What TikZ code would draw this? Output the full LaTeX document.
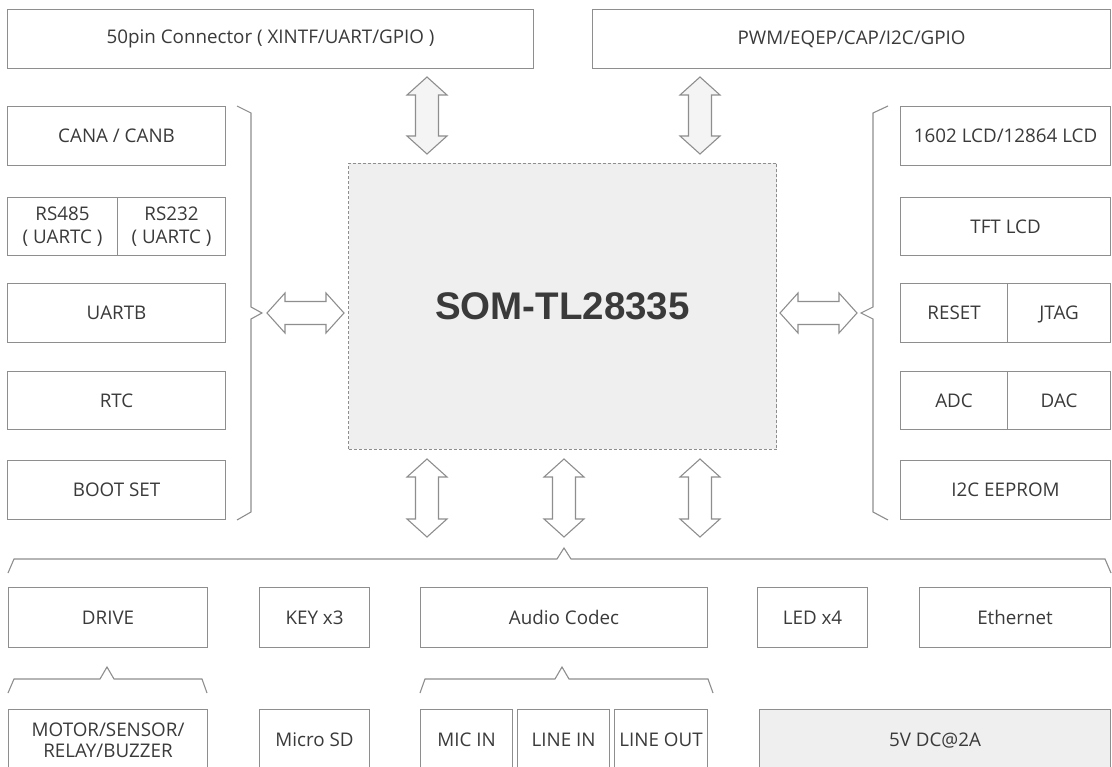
\documentclass[tikz,border=0pt]{standalone}
\usepackage{fontspec}
\setmainfont{Open Sans}
\newfontfamily\titlefont{Liberation Sans}
\definecolor{linegray}{HTML}{8E8E8E}
\definecolor{txtgray}{HTML}{3A3A3A}
\definecolor{fillgray}{HTML}{EFEFEF}
\definecolor{arrfill}{HTML}{F4F4F4}
\tikzset{
  box/.style={draw=linegray, line width=1.1pt, inner sep=0pt, anchor=north west,
    text=txtgray, font=\fontsize{18.8}{23}\selectfont, align=center},
  dblarr/.style={draw=linegray, line width=1.1pt, line join=miter, fill=white},
  brack/.style={draw=linegray, line width=1.1pt, line join=miter},
}
% box: name, x1, y1, x2, y2, options, text
\newcommand\bx[7]{\node[box, minimum width={#4pt-#2pt}, minimum height={#5pt-#3pt}, #6] (#1) at (#2,#3) {#7};}
% vertical double arrow: x, ytop, ybottom, options
\newcommand\vdarr[4]{\draw[dblarr,#4] (#1,#2) -- ++(20,18) -- ++(-8.5,0) -- (#1+11.5,#3-18) -- ++(8.5,0) -- (#1,#3) -- ++(-20,-18) -- ++(8.5,0) -- (#1-11.5,#2+18) -- ++(-8.5,0) -- cycle;}
% horizontal double arrow: y, xleft, xright
\newcommand\hdarr[3]{\draw[dblarr] (#2,#1) -- ++(18,-20) -- ++(0,8.5) -- (#3-18,#1-11.5) -- ++(0,-8.5) -- (#3,#1) -- ++(-18,20) -- ++(0,-8.5) -- (#2+18,#1+11.5) -- ++(0,8.5) -- cycle;}
\begin{document}
\begin{tikzpicture}[x=1pt,y=-1pt]
\useasboundingbox (0,0) rectangle (1112,767);
\clip (0,0) rectangle (1112,767);
\fill[white] (0,0) rectangle (1112,767);

% top row
\bx{top1}{7}{9}{533}{68}{}{50pin Connector ( XINTF/UART/GPIO )}
\bx{top2}{592}{9}{1110}{68}{}{PWM/EQEP/CAP/I2C/GPIO}

% main module
\node[box, draw=linegray, line width=1pt, dash pattern=on 3pt off 2pt, fill=fillgray,
  minimum width=428pt, minimum height=286pt, font=\titlefont\bfseries\fontsize{38.5}{42}\selectfont]
  (main) at (348,163) {SOM-TL28335};

% left column
\bx{can}{7}{106}{225}{165}{}{CANA / CANB}
\bx{rs485}{7}{197}{117}{255}{}{RS485\\( UARTC )}
\bx{rs232}{117}{197}{225}{255}{}{RS232\\( UARTC )}
\bx{uartb}{7}{283}{225}{342}{}{UARTB}
\bx{rtc}{7}{371}{225}{429}{}{RTC}
\bx{boot}{7}{460}{225}{519}{}{BOOT SET}

% right column
\bx{lcd}{900}{106}{1110}{165}{}{1602 LCD/12864 LCD}
\bx{tft}{900}{197}{1110}{255}{}{TFT LCD}
\bx{reset}{900}{283}{1007}{342}{}{RESET}
\bx{jtag}{1007}{283}{1110}{342}{text depth=0pt}{JTAG}
\bx{adc}{900}{371}{1007}{429}{}{ADC}
\bx{dac}{1007}{371}{1110}{429}{}{DAC}
\bx{eeprom}{900}{460}{1110}{519}{}{I2C EEPROM}

% bottom row 1
\bx{drive}{8}{587}{207}{647}{}{DRIVE}
\bx{key}{259}{587}{369}{647}{}{KEY x3}
\bx{audio}{420}{587}{707}{647}{}{Audio Codec}
\bx{led}{757}{587}{867}{647}{}{LED x4}
\bx{eth}{919}{587}{1110}{647}{}{Ethernet}

% bottom row 2
\bx{motor}{8}{709}{207}{770}{font=\fontsize{18.8}{21.5}\selectfont}{MOTOR/SENSOR/\\RELAY/BUZZER}
\bx{sd}{259}{709}{369}{770}{}{Micro SD}
\bx{mic}{420}{709}{512}{770}{}{MIC IN}
\bx{linein}{517}{709}{609}{770}{}{LINE IN}
\bx{lineout}{614}{709}{707}{770}{}{LINE OUT}
\bx{power}{759}{709}{1110}{770}{fill=fillgray}{5V DC@2A}

% brackets
\draw[brack] (237,106) -- (251,113) -- (251,307) -- (262,313) -- (251,319) -- (251,512) -- (237,520);
\draw[brack] (888,106) -- (873,113) -- (873,307) -- (861,313) -- (873,319) -- (873,512) -- (888,520);
\draw[brack] (8,573) -- (14,559) -- (557,559) -- (564,548) -- (571,559) -- (1105,559) -- (1111,573);
\draw[brack] (8,693) -- (14,679) -- (100,679) -- (107,667) -- (114,679) -- (202,679) -- (207,693);
\draw[brack] (420,693) -- (425,679) -- (555,679) -- (562,667) -- (569,679) -- (708,679) -- (713,693);

% double arrows
\vdarr{427}{77}{154}{fill=arrfill}
\vdarr{700}{77}{154}{fill=arrfill}
\vdarr{427}{459}{537}{}
\vdarr{564}{459}{537}{}
\vdarr{700}{459}{537}{}
\hdarr{313}{267}{344}
\hdarr{313}{780}{857}
\end{tikzpicture}
\end{document}
